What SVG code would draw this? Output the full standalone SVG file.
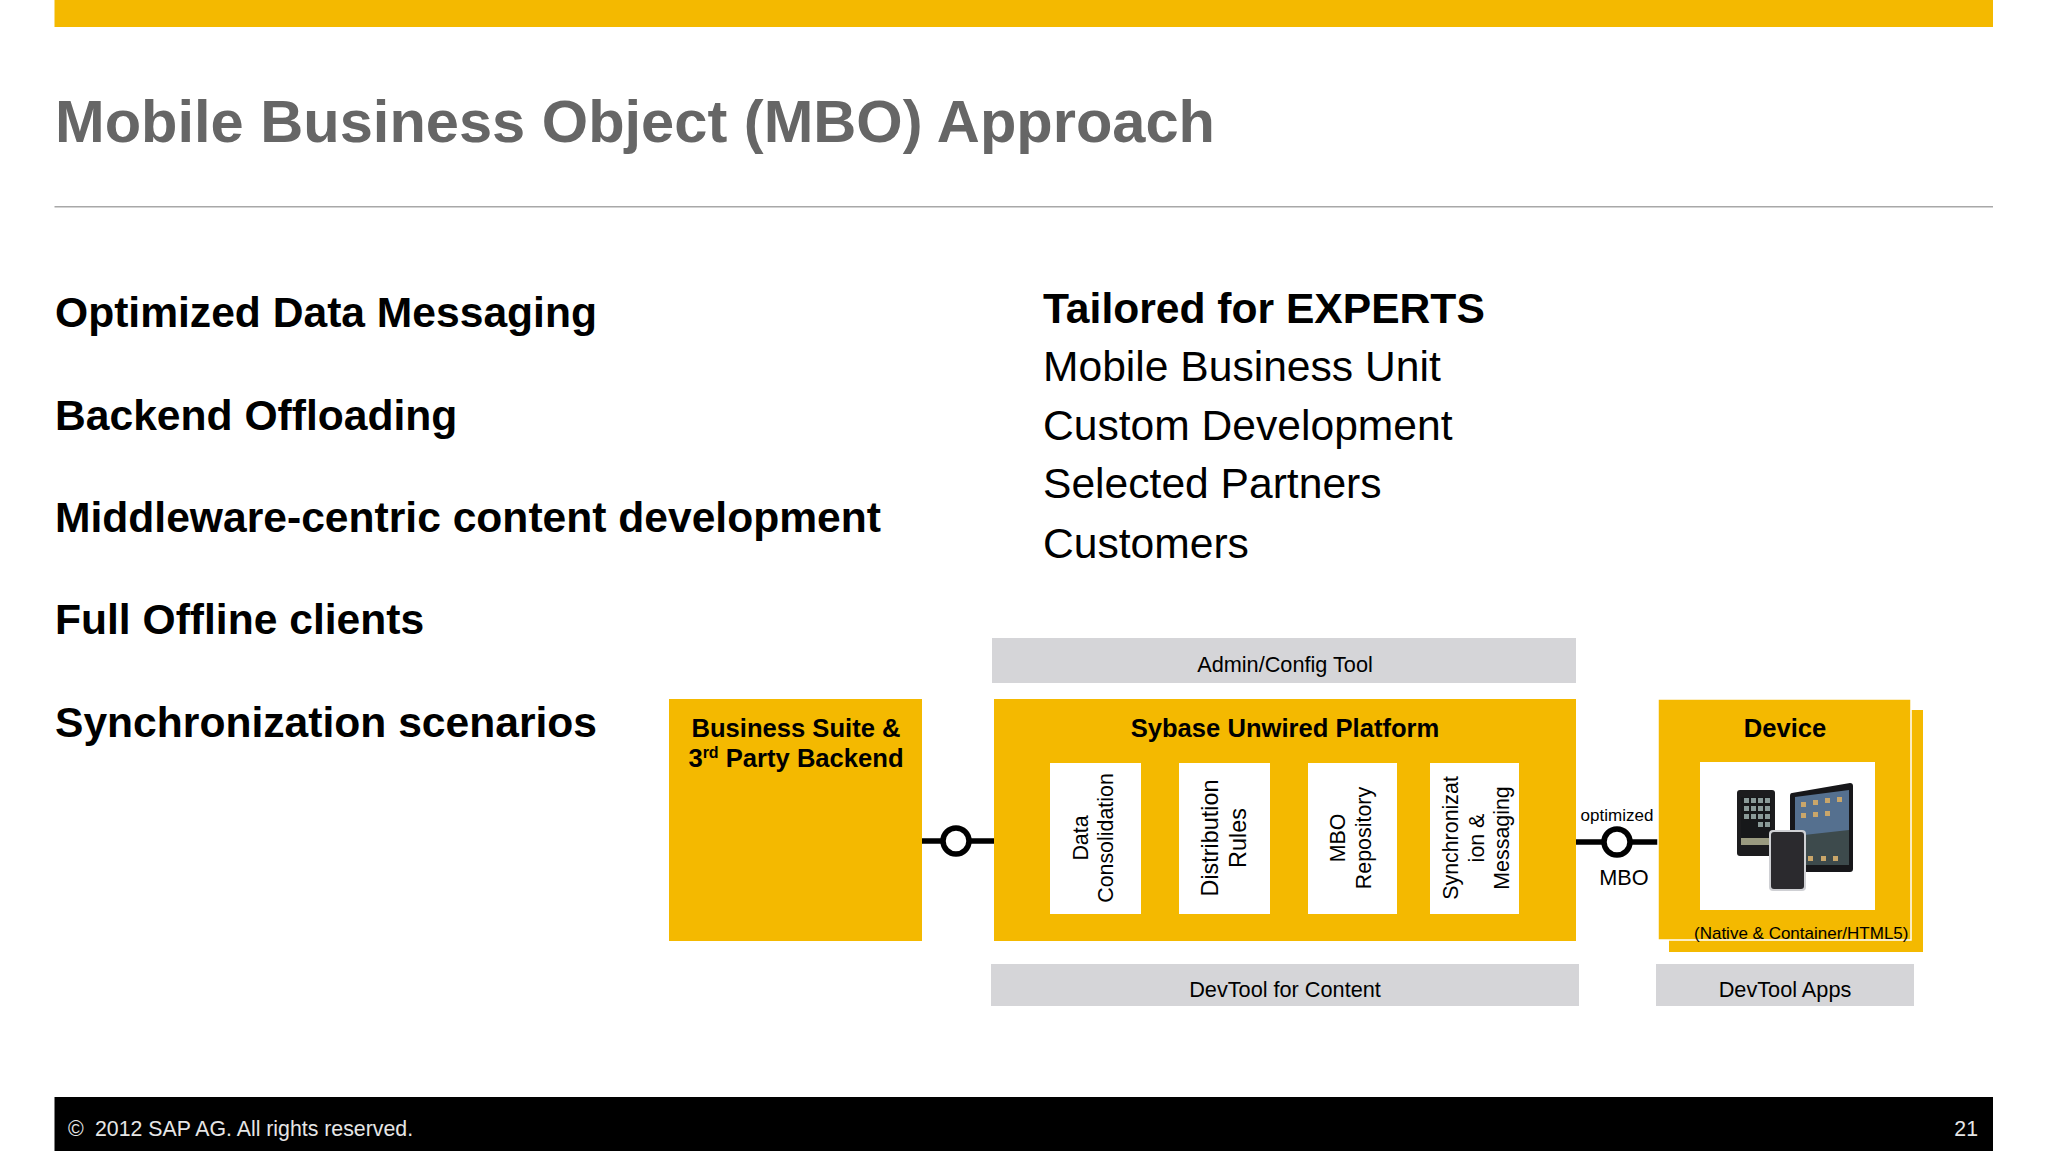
<svg xmlns="http://www.w3.org/2000/svg" width="2048" height="1152" viewBox="0 0 2048 1152">
<style>
text{font-family:"Liberation Sans",Arial,sans-serif;fill:#000}
.b{font-weight:700}
.h{font-size:42.6px}
.n{font-size:25.6px;font-weight:700;text-anchor:middle}
.l{font-size:21.7px;text-anchor:middle}
.v{font-size:21.4px;text-anchor:middle}
.d{font-size:23.4px;text-anchor:middle}
.y{fill:#f4b900}
.g{fill:#d5d5d8}
.w{fill:#fff}
.c{stroke:#000;stroke-width:5.5;fill:none}
</style>
<rect x="54.5" y="0" width="1938.5" height="27" class="y"/>
<text x="55" y="142" font-size="59.6" class="b" style="fill:#666">Mobile Business Object (MBO) Approach</text>
<rect x="54.5" y="206" width="1938.5" height="1.5" fill="#a8a8a8"/>
<g class="b h">
<text x="55" y="326.500">Optimized Data Messaging</text>
<text x="55" y="429.500">Backend Offloading</text>
<text x="55" y="531.500">Middleware-centric content development</text>
<text x="55" y="634">Full Offline clients</text>
<text x="55" y="736.500">Synchronization scenarios</text>
</g>
<g class="h">
<text x="1043" y="322.500" class="b">Tailored for EXPERTS</text>
<text x="1043" y="380.500">Mobile Business Unit</text>
<text x="1043" y="440">Custom Development</text>
<text x="1043" y="498">Selected Partners</text>
<text x="1043" y="557.500">Customers</text>
</g>
<g id="connectors">
<path class="c" d="M922 841H943M969 841H994"/>
<circle class="c" cx="956" cy="841" r="13"/>
<path class="c" d="M1576 842H1604M1630 842H1658"/>
<circle class="c" cx="1617" cy="842" r="13"/>
</g>
<g id="admin"><rect x="992" y="638" width="584" height="45" class="g"/><text x="1285" y="672" class="l">Admin/Config Tool</text></g>
<g id="backend"><rect x="669" y="699" width="253" height="242" class="y"/>
<text x="796" y="737" class="n">Business Suite &amp;</text>
<text x="796" y="767" class="n">3<tspan font-size="16" dy="-9">rd</tspan><tspan dy="9"> Party Backend</tspan></text></g>
<g id="sup"><rect x="994" y="699" width="582" height="242" class="y"/>
<text x="1285" y="737" class="n">Sybase Unwired Platform</text>
<rect x="1050" y="763" width="91" height="151" class="w"/>
<text transform="translate(1088 838) rotate(-90)" class="v">Data</text>
<text transform="translate(1113 838) rotate(-90)" class="v">Consolidation</text>
<rect x="1179" y="763" width="91" height="151" class="w"/>
<text transform="translate(1218 838) rotate(-90)" class="d">Distribution</text>
<text transform="translate(1246 838) rotate(-90)" class="d">Rules</text>
<rect x="1308" y="763" width="89" height="151" class="w"/>
<text transform="translate(1345 838) rotate(-90)" class="v">MBO</text>
<text transform="translate(1371 838) rotate(-90)" class="v">Repository</text>
<rect x="1430" y="763" width="89" height="151" class="w"/>
<text transform="translate(1458 838) rotate(-90)" class="v">Synchronizat</text>
<text transform="translate(1484 838) rotate(-90)" class="v">ion &amp;</text>
<text transform="translate(1509 838) rotate(-90)" class="v">Messaging</text>
</g>
<g id="mbo-labels"><text x="1617" y="821" font-size="17" text-anchor="middle">optimized</text>
<text x="1624" y="885" class="l">MBO</text></g>
<g id="device">
<rect x="1669" y="710" width="254" height="242" class="y"/>
<rect x="1658" y="699" width="253" height="241" class="y" stroke="#fff" stroke-width="1.5"/>
<text x="1785" y="737" class="n">Device</text>
<rect x="1700" y="762" width="175" height="148" class="w"/>
<rect x="1737" y="790" width="38" height="66" rx="3" fill="#1c1c1e"/>
<rect x="1741" y="797" width="30" height="46" fill="#17181a"/>
<g fill="#8a9a98"><rect x="1744" y="798" width="5" height="5"/><rect x="1751" y="798" width="5" height="5"/><rect x="1758" y="798" width="5" height="5"/><rect x="1765" y="798" width="5" height="5"/><rect x="1744" y="806" width="5" height="5"/><rect x="1751" y="806" width="5" height="5"/><rect x="1758" y="806" width="5" height="5"/><rect x="1765" y="806" width="5" height="5"/><rect x="1744" y="814" width="5" height="5"/><rect x="1751" y="814" width="5" height="5"/><rect x="1758" y="814" width="5" height="5"/><rect x="1765" y="814" width="5" height="5"/><rect x="1758" y="822" width="5" height="5"/><rect x="1765" y="822" width="5" height="5"/></g>
<rect x="1741" y="838" width="30" height="7" fill="#9a9a80"/>
<path d="M1792 793L1850 783Q1853 783 1853 786V869Q1853 872 1850 872L1793 872Q1790 872 1790 869V796Q1790 793 1792 793Z" fill="#17171a"/>
<path d="M1795 797L1849 790V865H1795Z" fill="#55708f"/>
<path d="M1795 836L1849 830V865H1795Z" fill="#3d4a4c"/>
<g fill="#c9a66a"><rect x="1801" y="802" width="5" height="5"/><rect x="1813" y="800" width="5" height="5"/><rect x="1825" y="798" width="5" height="5"/><rect x="1837" y="797" width="5" height="5"/><rect x="1801" y="813" width="5" height="5"/><rect x="1813" y="812" width="5" height="5"/><rect x="1825" y="811" width="5" height="5"/><rect x="1808" y="856" width="5" height="5"/><rect x="1821" y="856" width="5" height="5"/><rect x="1833" y="856" width="5" height="5"/></g>
<rect x="1769" y="830" width="37" height="61" rx="4" fill="#cfd0d4"/>
<rect x="1771" y="832" width="33" height="57" rx="3" fill="#2b2a2e"/>
<text x="1694" y="938.500" font-size="17">(Native &amp; Container/HTML5)</text>
</g>
<g id="devtool-content"><rect x="991" y="964" width="588" height="42" class="g"/><text x="1285" y="997" class="l">DevTool for Content</text></g>
<g id="devtool-apps"><rect x="1656" y="964" width="258" height="42" class="g"/><text x="1785" y="997" class="l">DevTool Apps</text></g>
<rect x="54.500" y="1097" width="1938.500" height="54" fill="#000"/>
<text x="68" y="1136" font-size="21.3" style="fill:#e6e6e6">©</text>
<text x="95" y="1136" font-size="21.3" style="fill:#e6e6e6">2012 SAP AG. All rights reserved.</text>
<text x="1978" y="1136" font-size="21.3" text-anchor="end" style="fill:#e6e6e6">21</text>
</svg>
